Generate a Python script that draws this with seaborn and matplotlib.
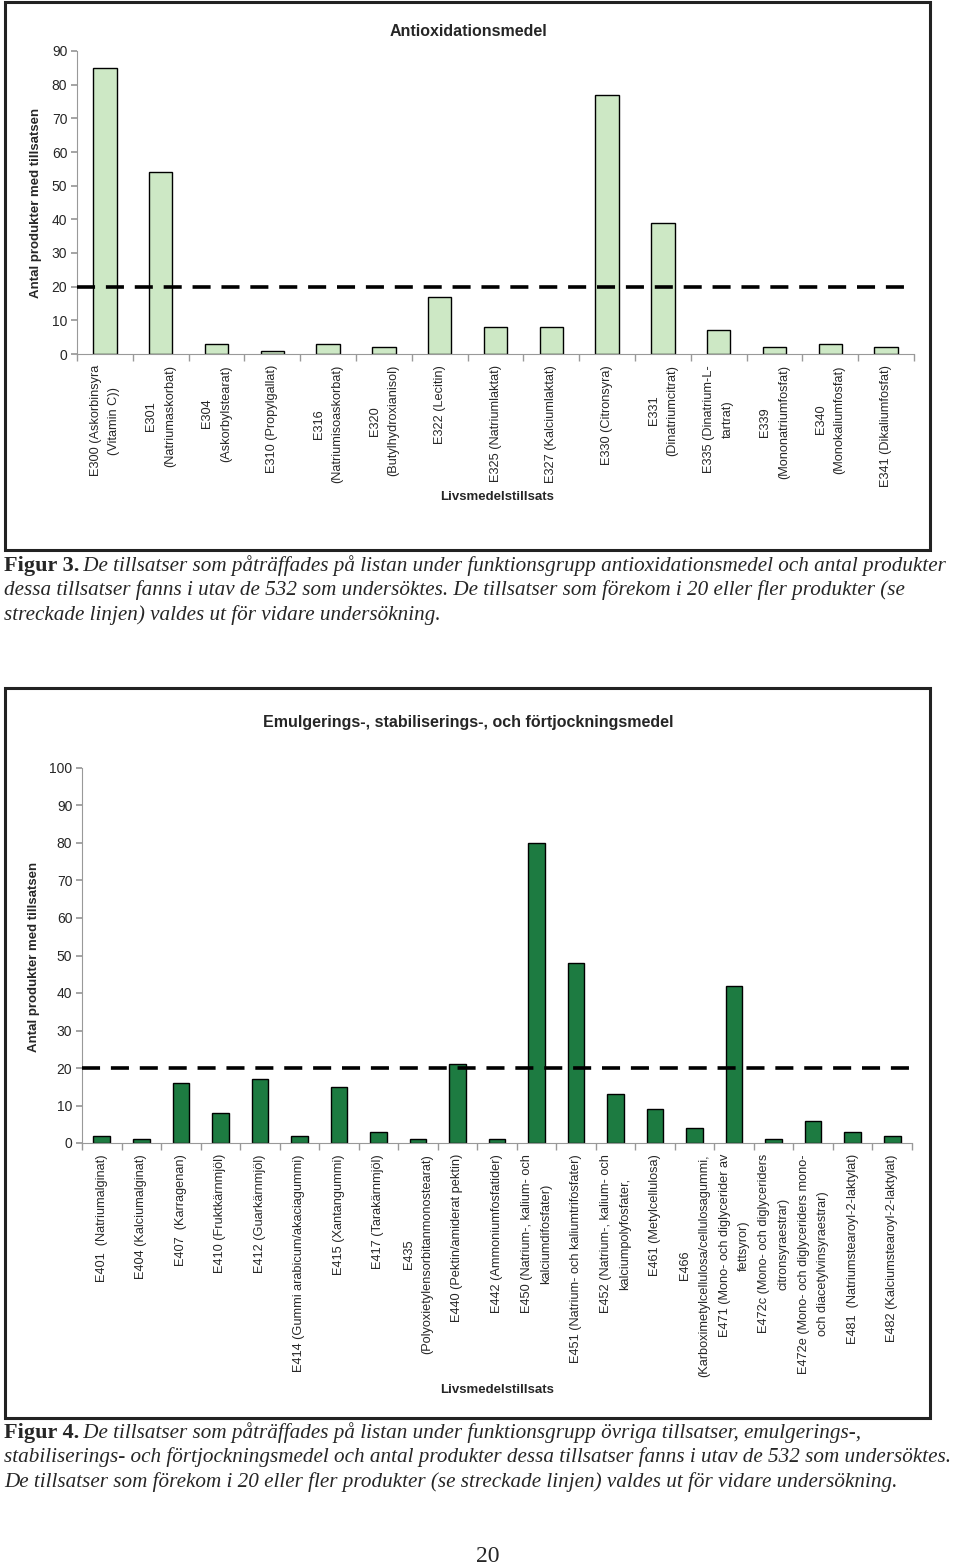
import matplotlib
matplotlib.use("Agg")
import matplotlib.pyplot as plt
import seaborn as sns
import pandas as pd
from matplotlib.patches import Rectangle

# Figur 3 - antioxidationsmedel
antiox_labels = [
    "E300 (Askorbinsyra\n(Vitamin C))",
    "E301\n(Natriumaskorbat)",
    "E304\n(Askorbylstearat)",
    "E310 (Propylgallat)",
    "E316\n(Natriumisoaskorbat)",
    "E320\n(Butylhydroxianisol)",
    "E322 (Lecitin)",
    "E325 (Natriumlaktat)",
    "E327 (Kalciumlaktat)",
    "E330 (Citronsyra)",
    "E331\n(Dinatriumcitrat)",
    "E335 (Dinatrium-L-\ntartrat)",
    "E339\n(Mononatriumfosfat)",
    "E340\n(Monokaliumfosfat)",
    "E341 (Dikaliumfosfat)",
]
antiox_counts = [85, 54, 3, 1, 3, 2, 17, 8, 8, 77, 39, 7, 2, 3, 2]

# Figur 4 - emulgerings-, stabiliserings- och förtjockningsmedel
emul_labels = [
    "E401  (Natriumalginat)",
    "E404 (Kalciumalginat)",
    "E407  (Karragenan)",
    "E410 (Fruktkärnmjöl)",
    "E412 (Guarkärnmjöl)",
    "E414 (Gummi arabicum/akaciagummi)",
    "E415 (Xantangummi)",
    "E417 (Tarakärnmjöl)",
    "E435\n(Polyoxietylensorbitanmonostearat)",
    "E440 (Pektin/amiderat pektin)",
    "E442 (Ammoniumfosfatider)",
    "E450 (Natrium-, kalium- och\nkalciumdifosfater)",
    "E451 (Natrium- och kaliumtrifosfater)",
    "E452 (Natrium-, kalium- och\nkalciumpolyfosfater,",
    "E461 (Metylcellulosa)",
    "E466\n(Karboximetylcellulosa/cellulosagummi,",
    "E471 (Mono- och diglycerider av\nfettsyror)",
    "E472c (Mono- och diglyceriders\ncitronsyraestrar)",
    "E472e (Mono- och diglyceriders mono-\noch diacetylvinsyraestrar)",
    "E481  (Natriumstearoyl-2-laktylat)",
    "E482 (Kalciumstearoyl-2-laktylat)",
]
emul_counts = [2, 1, 16, 8, 17, 2, 15, 3, 1, 21, 1, 80, 48, 13, 9, 4, 42, 1, 6, 3, 2]

threshold = 20

caption3 = [
    ("Figur 3.", " De tillsatser som påträffades på listan under funktionsgrupp antioxidationsmedel och antal produkter"),
    ("", "dessa tillsatser fanns i utav de 532 som undersöktes. De tillsatser som förekom i 20 eller fler produkter (se"),
    ("", "streckade linjen) valdes ut för vidare undersökning."),
]
caption4 = [
    ("Figur 4.", " De tillsatser som påträffades på listan under funktionsgrupp övriga tillsatser, emulgerings-,"),
    ("", "stabiliserings- och förtjockningsmedel och antal produkter dessa tillsatser fanns i utav de 532 som undersöktes."),
    ("", "De tillsatser som förekom i 20 eller fler produkter (se streckade linjen) valdes ut för vidare undersökning."),
]

sns.set_theme(style="white")
plt.rcParams["font.family"] = ["Liberation Sans", "DejaVu Sans"]

W, H = 960, 1567
fig = plt.figure(figsize=(W / 100, H / 100), dpi=100)


def fx(x):
    return x / W


def fy(y):
    return 1 - y / H


def px_axes(l, t, r, b):
    return fig.add_axes([fx(l), fy(b), (r - l) / W, (b - t) / H])


def draw_chart(ax, labels, counts, color, ymax, step):
    df = pd.DataFrame({"tillsats": labels, "antal": counts})
    sns.barplot(data=df, x="tillsats", y="antal", color=color, width=0.42,
                edgecolor="black", linewidth=1, saturation=1, ax=ax)
    n = len(labels)
    ax.axhline(threshold, color="black", lw=2.6, ls=(0, (5, 3)), zorder=5)
    ax.set_xlim(-0.5, n - 0.5)
    ax.set_ylim(0, ymax)
    ax.set_yticks(range(0, ymax + 1, step))
    ax.tick_params(axis="y", labelsize=10, length=4, color="#999999",
                   direction="out", left=True, pad=3)
    ax.set_xticks(range(n))
    ax.set_xticklabels(labels, rotation=90, ha="center", va="top",
                       multialignment="center", fontsize=9.2, linespacing=1.75)
    ax.set_xticks([i + 0.5 for i in range(-1, n)], minor=True)
    ax.tick_params(axis="x", which="major", length=0, pad=8)
    ax.tick_params(axis="x", which="minor", length=5, color="#999999",
                   direction="out", bottom=True)
    ax.set_xlabel("")
    ax.set_ylabel("")
    for s in ["top", "right"]:
        ax.spines[s].set_visible(False)
    for s in ["left", "bottom"]:
        ax.spines[s].set_color("#999999")
        ax.spines[s].set_linewidth(0.8)


# Top chart
ax1 = px_axes(77, 51, 914, 354)
draw_chart(ax1, antiox_labels, antiox_counts, "#cde8c5", 90, 10)
fig.text(fx(468), fy(32), "Antioxidationsmedel", ha="center", va="center",
         fontsize=11.5, fontweight="bold")
fig.text(fx(36), fy(203), "Antal produkter med tillsatsen", ha="center",
         va="center", rotation=90, fontsize=9.5, fontweight="bold")
fig.text(fx(497), fy(497), "Livsmedelstillsats", ha="center", va="center",
         fontsize=9.5, fontweight="bold")
fig.add_artist(Rectangle((fx(5), fy(550)), 925 / W, 548 / H,
                         transform=fig.transFigure, fill=False, lw=2.2,
                         ec="#222222"))

# Bottom chart
ax2 = px_axes(82, 768, 912, 1143)
draw_chart(ax2, emul_labels, emul_counts, "#1d7b41", 100, 10)
fig.text(fx(468), fy(722), "Emulgerings-, stabiliserings-, och förtjockningsmedel",
         ha="center", va="center", fontsize=11.5, fontweight="bold")
fig.text(fx(34), fy(957), "Antal produkter med tillsatsen", ha="center",
         va="center", rotation=90, fontsize=9.5, fontweight="bold")
fig.text(fx(497), fy(1390), "Livsmedelstillsats", ha="center", va="center",
         fontsize=9.5, fontweight="bold")
fig.add_artist(Rectangle((fx(5), fy(1418)), 925 / W, 730 / H,
                         transform=fig.transFigure, fill=False, lw=2.2,
                         ec="#222222"))

# Captions
renderer = fig.canvas.get_renderer()
serif = ["Liberation Serif", "DejaVu Serif"]


def caption(lines, y0):
    for i, (head, body) in enumerate(lines):
        y = fy(y0 + i * 24.5)
        x = fx(4)
        if head:
            t = fig.text(x, y, head, ha="left", va="center", fontsize=16,
                         fontweight="bold", family=serif)
            bb = t.get_window_extent(renderer)
            x = fx(bb.x1 - 1)
        fig.text(x, y, body, ha="left", va="center", fontsize=15.2,
                 fontstyle="italic", family=serif)


caption(caption3, 566)
caption(caption4, 1433)

fig.text(fx(488), fy(1556), "20", ha="center", va="center", fontsize=17,
         family=serif)

fig.savefig("out.png", dpi=100)
